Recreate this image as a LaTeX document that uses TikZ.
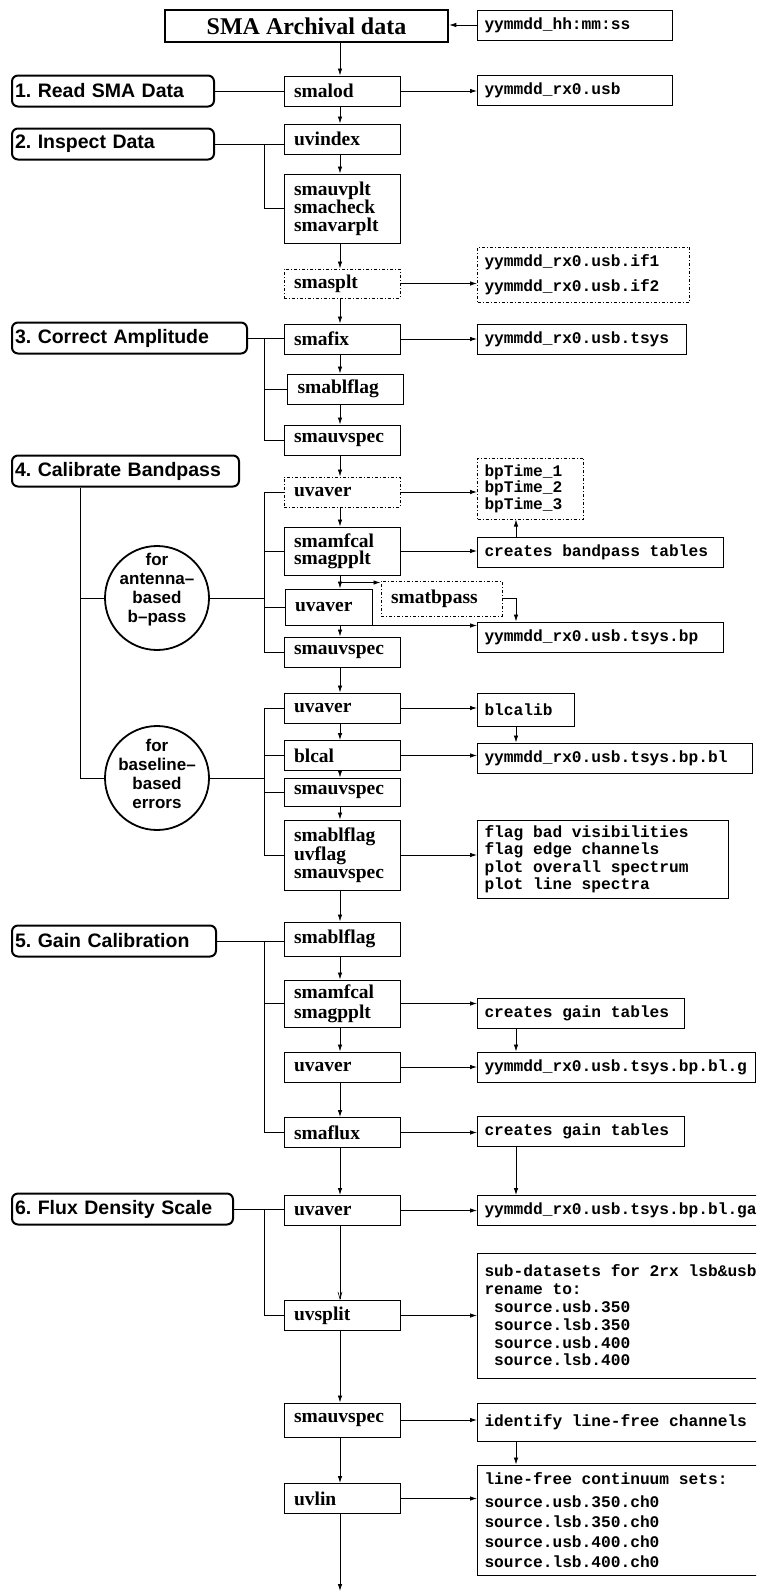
\documentclass[tikz,border=0pt]{standalone}
\usepackage{fontspec}
\setmainfont{Liberation Serif}
\setsansfont{Liberation Sans}
\setmonofont{Liberation Mono}[WordSpace={1,0,0}]
\usetikzlibrary{arrows.meta}
\newcommand\monospaces{\spaceskip 0.6em\relax\xspaceskip 0.6em\relax}

\tikzset{
  prog/.style={draw, line width=1pt, font=\bfseries\fontsize{19.5}{17.5}\selectfont,
    align=left, text width=96pt, inner xsep=10pt, inner ysep=0pt, minimum height=30pt},
  file/.style={draw, line width=1pt, anchor=west,
    font=\ttfamily\bfseries\fontsize{16.2}{17.5}\selectfont, execute at begin node=\monospaces,
    align=left, inner xsep=7pt, inner ysep=0pt, minimum height=30pt, text width=#1},
  stage/.style={draw, line width=2pt, rounded corners=6pt, anchor=west,
    font=\sffamily\bfseries\fontsize{19.5}{19.5}\selectfont\frenchspacing, align=left, inner xsep=3pt,
    inner ysep=0pt, minimum height=31pt, text width=#1},
  branch/.style={draw, circle, line width=1.8pt, minimum size=104pt, inner sep=0pt},
  branchtext/.style={font=\sffamily\bfseries\fontsize{17}{19}\selectfont, align=center, inner sep=0pt},
  conn/.style={line width=0.8pt},
}

\begin{document}
\begin{tikzpicture}[x=1pt, y=-1pt, >={Latex[length=7pt,width=4.5pt]}]
\useasboundingbox (0,0) rectangle (756,1591);
\clip (0,0) rectangle (756,1591);

\coordinate (col) at (340,0);
\coordinate (sp) at (264,0);
\coordinate (trunk) at (80,0);
\coordinate (fcol) at (516,0);
\coordinate (tail) at (340,1591);

% main column
\node[draw, line width=2.5pt, font=\bfseries\fontsize{24}{24}\selectfont, minimum width=283pt,
  minimum height=32pt, inner sep=0pt] (title) at (306.5,26) {SMA Archival data};
\node[prog] (smalod) at (342,91) {smalod};
\node[prog] (uvindex) at (342,139) {uvindex};
\node[prog, minimum height=69pt] (insp) at (342,208.5) {smauvplt\\smacheck\\smavarplt};
\node[prog, dash dot, minimum height=29pt] (smasplt) at (342,283.5) {smasplt};
\node[prog] (smafix) at (342,339) {smafix};
\node[prog] (smablflag) at (345.5,389) {smablflag};
\node[prog] (smauvspec) at (342,440) {smauvspec};
\node[prog, dash dot] (uvaverA) at (342,492) {uvaver};
\node[prog, minimum height=48pt, font=\bfseries\fontsize{19.5}{17}\selectfont] (smamfcal) at (342,551) {smamfcal\\smagpplt};
\node[prog, text width=67pt, minimum height=36pt] (uvaverB) at (328.5,607) {uvaver};
\node[prog, dash dot, text width=101pt, minimum height=35pt] (tbp) at (441.5,598.5) {smatbpass};
\node[prog] (smauvspecB) at (342,652) {smauvspec};
\node[prog] (uvaverC) at (342,708) {uvaver};
\node[prog] (blcal) at (342,755.5) {blcal};
\node[prog, minimum height=28pt] (smauvspecC) at (342,792) {smauvspec};
\node[prog, minimum height=70pt, font=\bfseries\fontsize{19.5}{18}\selectfont] (triple) at (342,855) {smablflag\\uvflag\\smauvspec};
\node[prog, minimum height=34pt] (smablflagB) at (342,939) {smablflag};
\node[prog, minimum height=47pt, font=\bfseries\fontsize{19.5}{20}\selectfont] (smamfcalB) at (342,1003.5) {smamfcal\\smagpplt};
\node[prog] (uvaverD) at (342,1067) {uvaver};
\node[prog] (smaflux) at (342,1132.5) {smaflux};
\node[prog] (uvaverE) at (342,1210.5) {uvaver};
\node[prog] (uvsplit) at (342,1315.5) {uvsplit};
\node[prog, minimum height=34pt] (smauvspecD) at (342,1420) {smauvspec};
\node[prog] (uvlin) at (342,1498.5) {uvlin};

% steps
\node[stage=196pt] (s1) at (11,91) {1. Read SMA Data};
\node[stage=196pt] (s2) at (11,144) {2. Inspect Data};
\node[stage=229pt] (s3) at (11,338) {3. Correct Amplitude};
\node[stage=221pt] (s4) at (11,471) {4. Calibrate Bandpass};
\node[stage=198pt] (s5) at (11,941) {5. Gain Calibration};
\node[stage=215pt] (s6) at (11,1209) {6. Flux Density Scale};

\node[branch] (antC) at (157,598) {};
\node[branchtext] (antT) at (157,590) {for\\antenna–\\based\\b–pass};
\node[branch] (blC) at (157,778) {};
\node[branchtext] (blT) at (157,774) {for\\baseline–\\based\\errors};

% files
\node[file=181pt] (hms) at (477,25) {yymmdd\_hh:mm:ss};
\node[file=181pt] (usb) at (477,90.5) {yymmdd\_rx0.usb};
\node[file=198pt, dash dot, minimum height=55pt, font=\ttfamily\bfseries\fontsize{16.2}{25}\selectfont] (ifs) at (477,274.5) {yymmdd\_rx0.usb.if1\\yymmdd\_rx0.usb.if2};
\node[file=195pt] (tsys) at (477,339) {yymmdd\_rx0.usb.tsys};
\node[file=92pt, dash dot, minimum height=61pt, font=\ttfamily\bfseries\fontsize{16.2}{16.5}\selectfont] (bptime) at (477,488.5) {bpTime\_1\\bpTime\_2\\bpTime\_3};
\node[file=232pt] (bptab) at (477,552.5) {creates bandpass tables};
\node[file=232pt] (bpfile) at (477,637) {yymmdd\_rx0.usb.tsys.bp};
\node[file=83pt, minimum height=33pt] (blcalib) at (477,709.5) {blcalib};
\node[file=261pt] (blfile) at (477,758) {yymmdd\_rx0.usb.tsys.bp.bl};
\node[file=237pt, minimum height=78pt] (flags) at (477,859) {flag bad visibilities\\flag edge channels\\plot overall spectrum\\plot line spectra};
\node[file=193pt] (gaintab) at (477,1013) {creates gain tables};
\node[file=264pt] (gfile) at (477,1067) {yymmdd\_rx0.usb.tsys.bp.bl.g};
\node[file=193pt] (gaintabB) at (477,1131.5) {creates gain tables};
\node[file=306pt] (gafile) at (477,1210.5) {yymmdd\_rx0.usb.tsys.bp.bl.ga};
\node[file=306pt, minimum height=125pt, font=\ttfamily\bfseries\fontsize{16.2}{17.8}\selectfont] (subsets) at (477,1315.5) {sub-datasets for 2rx lsb\&usb\\rename to:\\~source.usb.350\\~source.lsb.350\\~source.usb.400\\~source.lsb.400};
\node[file=306pt, minimum height=38pt] (ident) at (477,1422) {identify line-free channels};
\node[file=306pt, minimum height=110pt, font=\ttfamily\bfseries\fontsize{16.2}{20}\selectfont] (linefree) at (477,1520) {line-free continuum sets:\\[3pt]source.usb.350.ch0\\source.lsb.350.ch0\\source.usb.400.ch0\\source.lsb.400.ch0};

% flow down the main column
\foreach \a/\b in {title/smalod, smalod/uvindex, uvindex/insp, insp/smasplt, smasplt/smafix,
    smafix/smablflag, smablflag/smauvspec, smauvspec/uvaverA, uvaverA/smamfcal, smamfcal/uvaverB,
    uvaverB/smauvspecB, smauvspecB/uvaverC, uvaverC/blcal, blcal/smauvspecC, smauvspecC/triple,
    triple/smablflagB, smablflagB/smamfcalB, smamfcalB/uvaverD, uvaverD/smaflux, smaflux/uvaverE,
    uvsplit/smauvspecD, smauvspecD/uvlin}
  \draw[conn, ->] (col |- \a.south) -- (col |- \b.north);
\draw[conn, -{Straight Barb[length=7pt,width=4pt,line width=0.6pt]}] (col |- uvaverE.south) -- (col |- uvsplit.north);
\draw[conn, ->] (col |- uvlin.south) -- (tail);

% outputs
\foreach \a/\b in {smalod/usb, smasplt/ifs, smafix/tsys, uvaverA/bptime, smamfcal/bptab,
    uvaverC/blcalib, blcal/blfile, triple/flags, smamfcalB/gaintab, uvaverD/gfile,
    smaflux/gaintabB, uvaverE/gafile, uvsplit/subsets, smauvspecD/ident, uvlin/linefree}
  \draw[conn, ->] (\a.east) -- (\a.east -| \b.west);
\draw[conn, ->] (hms.west) -- (hms.west -| title.east);
\draw[conn, ->] (uvaverB.south east) -- (uvaverB.south east -| bpfile.west);
\coordinate (tbpin) at ([yshift=-2pt]tbp.north west);
\draw[conn, ->] (col |- tbpin) -- (tbpin);
\draw[conn, ->] (tbp.east) -| (fcol |- bpfile.north);
\draw[conn, ->] (fcol |- bptab.north) -- (fcol |- bptime.south);
\foreach \a/\b in {blcalib/blfile, gaintab/gfile, gaintabB/gafile, ident/linefree}
  \draw[conn, ->] (fcol |- \a.south) -- (fcol |- \b.north);

% steps to tasks
\draw[conn] (s1.east) -- (s1.east -| smalod.west);
\draw[conn] (s2.east) -- (s2.east -| uvindex.west);
\draw[conn] (sp |- s2.east) |- (insp.west);
\draw[conn] (s3.east) -- (s3.east -| smafix.west);
\draw[conn] (sp |- s3.east) |- (smablflag.west);
\draw[conn] (sp |- s3.east) |- (smauvspec.west);
\draw[conn] (trunk |- s4.south) |- (blC.west);
\draw[conn] (trunk |- antC) -- (antC.west);
\draw[conn] (antC.east) -- (sp |- antC.east);
\draw[conn] (uvaverA.west) -| (sp |- smauvspecB.west) -- (smauvspecB.west);
\draw[conn] (sp |- smamfcal.west) -- (smamfcal.west);
\draw[conn] (sp |- uvaverB.west) -- (uvaverB.west);
\draw[conn] (blC.east) -- (sp |- blC.east);
\draw[conn] (uvaverC.west) -| (sp |- triple.west) -- (triple.west);
\draw[conn] (sp |- blcal.west) -- (blcal.west);
\draw[conn] (sp |- smauvspecC.west) -- (smauvspecC.west);
\draw[conn] (s5.east) -- (s5.east -| smablflagB.west);
\draw[conn] (sp |- s5.east) |- (smaflux.west);
\draw[conn] (sp |- smamfcalB.west) -- (smamfcalB.west);
\draw[conn] (s6.east) -- (s6.east -| uvaverE.west);
\draw[conn] (sp |- s6.east) |- (uvsplit.west);
\end{tikzpicture}
\end{document}
